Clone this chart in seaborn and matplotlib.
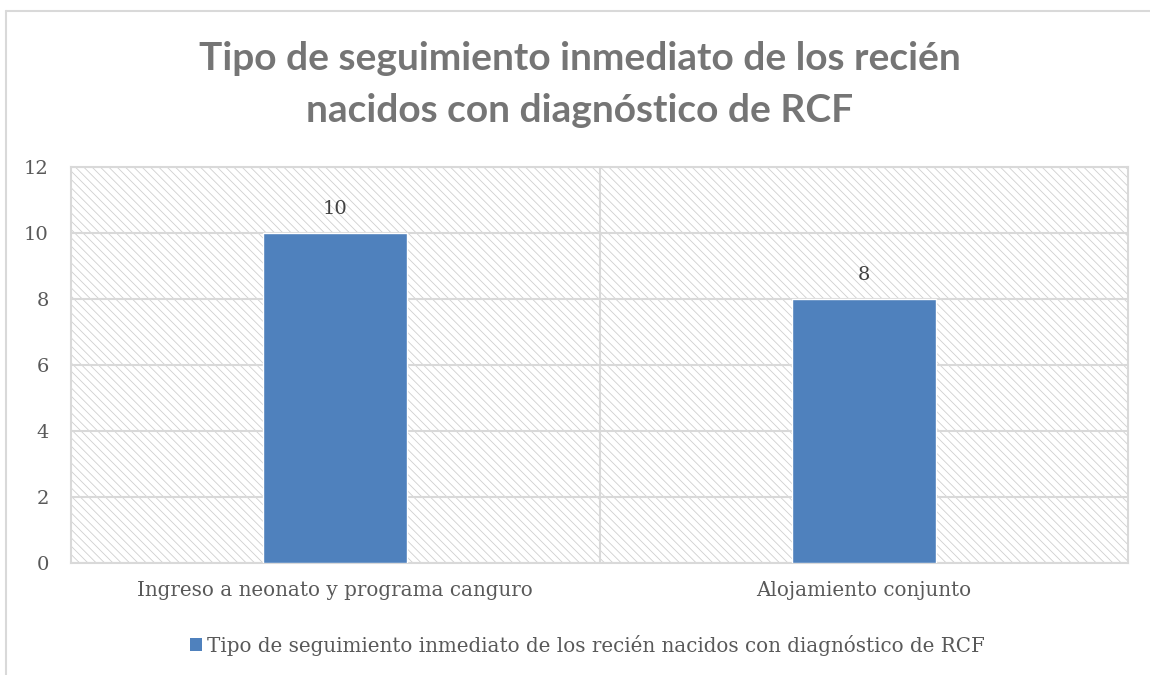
"""
Tipo de seguimiento inmediato de los recién nacidos con diagnóstico de RCF
"""
import matplotlib
matplotlib.use("Agg")
import matplotlib.pyplot as plt
from matplotlib.lines import Line2D
from matplotlib.patches import Patch
import seaborn as sns
import pandas as pd

# Datos
categorias = ["Ingreso a neonato y programa canguro", "Alojamiento conjunto"]
valores = [10, 8]
serie = "Tipo de seguimiento inmediato de los recién nacidos con diagnóstico de RCF"
titulo = ["Tipo de seguimiento inmediato de los recién",
          "nacidos con diagnóstico de RCF"]
yticks = [0, 2, 4, 6, 8, 10, 12]

AZUL = "#4F81BD"
GRIS_TXT = "#595959"
GRIS_LINEA = "#d9d9d9"

sns.set_style("white")
plt.rcParams["font.family"] = ["DejaVu Serif"]
plt.rcParams["hatch.linewidth"] = 0.6

df = pd.DataFrame({"categoria": categorias, "valor": valores})

W, H = 1150, 675
fig = plt.figure(figsize=(W / 100, H / 100), dpi=100)
ax = fig.add_axes([71 / W, 1 - 563 / H, (1128 - 71) / W, (563 - 167) / H])

# fondo rayado del área de trazado
ax.patch.set_facecolor("white")
ax.patch.set_edgecolor("#cfcfcf")
ax.patch.set_hatch("\\\\\\\\")

sns.barplot(data=df, x="categoria", y="valor", color=AZUL, width=0.272,
            saturation=1, ax=ax, zorder=3)

ax.set_xlim(-0.5, 1.5)
ax.set_ylim(0, 12)
ax.set_yticks(yticks)
ax.yaxis.grid(True, color=GRIS_LINEA, linewidth=1.5, zorder=1)
ax.set_axisbelow(True)
ax.axvline(0.5, color=GRIS_LINEA, linewidth=1.5, zorder=1)
for s in ax.spines.values():
    s.set_color(GRIS_LINEA)
    s.set_linewidth(1.5)

ax.set_xlabel("")
ax.set_ylabel("")
ax.tick_params(axis="y", length=0, pad=16, labelsize=14, labelcolor=GRIS_TXT)
ax.tick_params(axis="x", length=0, pad=13, labelsize=14.3, labelcolor=GRIS_TXT)

# etiquetas de datos
for cont in ax.containers:
    ax.bar_label(cont, padding=11, fontsize=14, color="#404040")

# título, una línea por texto
for linea, base in zip(titulo, [70, 122]):
    fig.text(580 / W, 1 - base / H, linea, ha="center", va="baseline",
             fontsize=28, fontweight="bold", color="#757575",
             family=["Lato", "DejaVu Sans"])

# leyenda
handle = Patch(facecolor=AZUL, edgecolor="none")
fig.legend([handle], [serie], loc="center", bbox_to_anchor=(587 / W, 1 - 645 / H),
           frameon=False, fontsize=14.3, labelcolor=GRIS_TXT,
           handlelength=0.6, handleheight=0.6, handletextpad=0.25)

# borde exterior del gráfico
fig.add_artist(Line2D([5.5 / W, 5.5 / W], [0, 1 - 10.5 / H],
                      transform=fig.transFigure, color=GRIS_LINEA, linewidth=1.5))
fig.add_artist(Line2D([5.5 / W, 1], [1 - 10.5 / H, 1 - 10.5 / H],
                      transform=fig.transFigure, color=GRIS_LINEA, linewidth=1.5))

fig.savefig("out.png", dpi=100)
